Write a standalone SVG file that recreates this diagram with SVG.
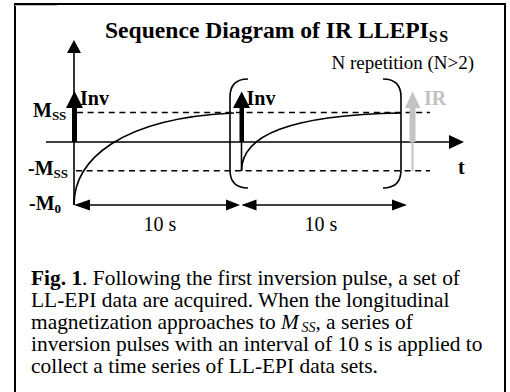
<svg xmlns="http://www.w3.org/2000/svg" width="510" height="392" viewBox="0 0 510 392">
  <style>
    text { font-family: "Liberation Serif", "Times New Roman", serif; fill: #000; }
    .b { font-weight: bold; }
    .lbl { font-size: 20px; font-weight: bold; }
    .sub { font-size: 13px; }
    .cap { font-size: 21.4px; }
    .ln { stroke: #000; stroke-width: 1.6; fill: none; }
    .dash { stroke: #000; stroke-width: 1.5; stroke-dasharray: 6 4.6; fill: none; }
    .gray { fill: #c3c3c3; }
  </style>
  <rect width="510" height="392" fill="#fff"/>

  <!-- outer frame -->
  <rect x="15" y="4" width="490" height="400" fill="none" stroke="#000" stroke-width="2"/>
  <line x1="15" y1="5.5" x2="57" y2="5.5" stroke="#bbb" stroke-width="1"/>

  <!-- title -->
  <text x="105" y="38" class="b" font-size="23.6">Sequence Diagram of IR LLEPI<tspan font-size="16" dy="4" letter-spacing="1.5">SS</tspan></text>
  <text x="331.5" y="69" font-size="19">N repetition (N&gt;2)</text>

  <g id="axes">
    <line class="ln" x1="74" y1="52" x2="74" y2="205"/>
    <polygon points="74,40 67,53 81,53"/>
    <line class="ln" x1="46" y1="142" x2="450" y2="142"/>
    <polygon points="464,142 449,135 449,149"/>
    <text x="458" y="174" class="lbl">t</text>
  </g>

  <g id="levels">
    <line class="dash" x1="77" y1="112.5" x2="430" y2="112.5"/>
    <line class="dash" x1="76" y1="170.7" x2="430" y2="170.7"/>
    <text x="33" y="117" class="lbl">M<tspan class="sub" dy="3">SS</tspan></text>
    <text x="28" y="175" class="lbl">-M<tspan class="sub" dy="3">SS</tspan></text>
    <text x="29" y="210" class="lbl">-M<tspan class="sub" dy="3">0</tspan></text>
  </g>

  <g id="recovery">
    <path class="ln" d="M74,205 C74,160 120,118 234,113"/>
    <line class="ln" x1="241.5" y1="142" x2="241.5" y2="171"/>
    <path class="ln" d="M241.5,171 C241.5,135 290,115 401,113"/>
  </g>

  <g id="pulse-inv-1">
    <rect x="72" y="106" width="5" height="36"/>
    <polygon points="74.5,91 66,108 83,108"/>
    <text x="80" y="104.5" class="lbl">Inv</text>
  </g>

  <g id="pulse-inv-2">
    <rect x="239.5" y="106" width="4.5" height="36"/>
    <polygon points="241.7,91.5 233,108 250,108"/>
    <text x="246.5" y="104.5" class="lbl">Inv</text>
  </g>

  <g id="pulse-ir">
    <rect class="gray" x="409.5" y="106" width="6" height="36"/>
    <polygon class="gray" points="412.5,91.5 405,108 420.5,108"/>
    <line x1="412.5" y1="142" x2="412.5" y2="171" stroke="#c3c3c3" stroke-width="2"/>
    <text x="424" y="104.5" class="lbl" style="fill:#c3c3c3">IR</text>
  </g>

  <g id="repeat-bracket">
    <path class="ln" d="M248,79 Q230,79 230,97 L230,170 Q230,188 248,188"/>
    <path class="ln" d="M383,79 Q401,79 401,97 L401,170 Q401,188 383,188"/>
  </g>

  <g id="intervals">
    <line class="ln" x1="76" y1="205" x2="238" y2="205"/>
    <polygon points="74,205 90,199.5 90,210.5"/>
    <polygon points="240,205 226,199.5 226,210.5"/>
    <line class="ln" x1="243" y1="205" x2="405" y2="205"/>
    <polygon points="241.5,205 256.5,199.5 256.5,210.5"/>
    <polygon points="407,205 392,199.5 392,210.5"/>
    <text x="160" y="231" font-size="20" text-anchor="middle">10 s</text>
    <text x="321" y="231" font-size="20" text-anchor="middle">10 s</text>
  </g>

  <g id="caption" class="cap">
    <text x="31" y="285" class="cap"><tspan class="b">Fig. 1</tspan>. Following the first inversion pulse, a set of</text>
    <text x="31" y="307" class="cap">LL-EPI data are acquired. When the longitudinal</text>
    <text x="31" y="329" class="cap">magnetization approaches to <tspan font-style="italic">M</tspan><tspan font-style="italic" font-size="14" dx="2.5" dy="3">SS</tspan><tspan dy="-3">, a series of</tspan></text>
    <text x="31" y="351" class="cap">inversion pulses with an interval of 10 s is applied to</text>
    <text x="31" y="373" class="cap">collect a time series of LL-EPI data sets.</text>
  </g>
</svg>
